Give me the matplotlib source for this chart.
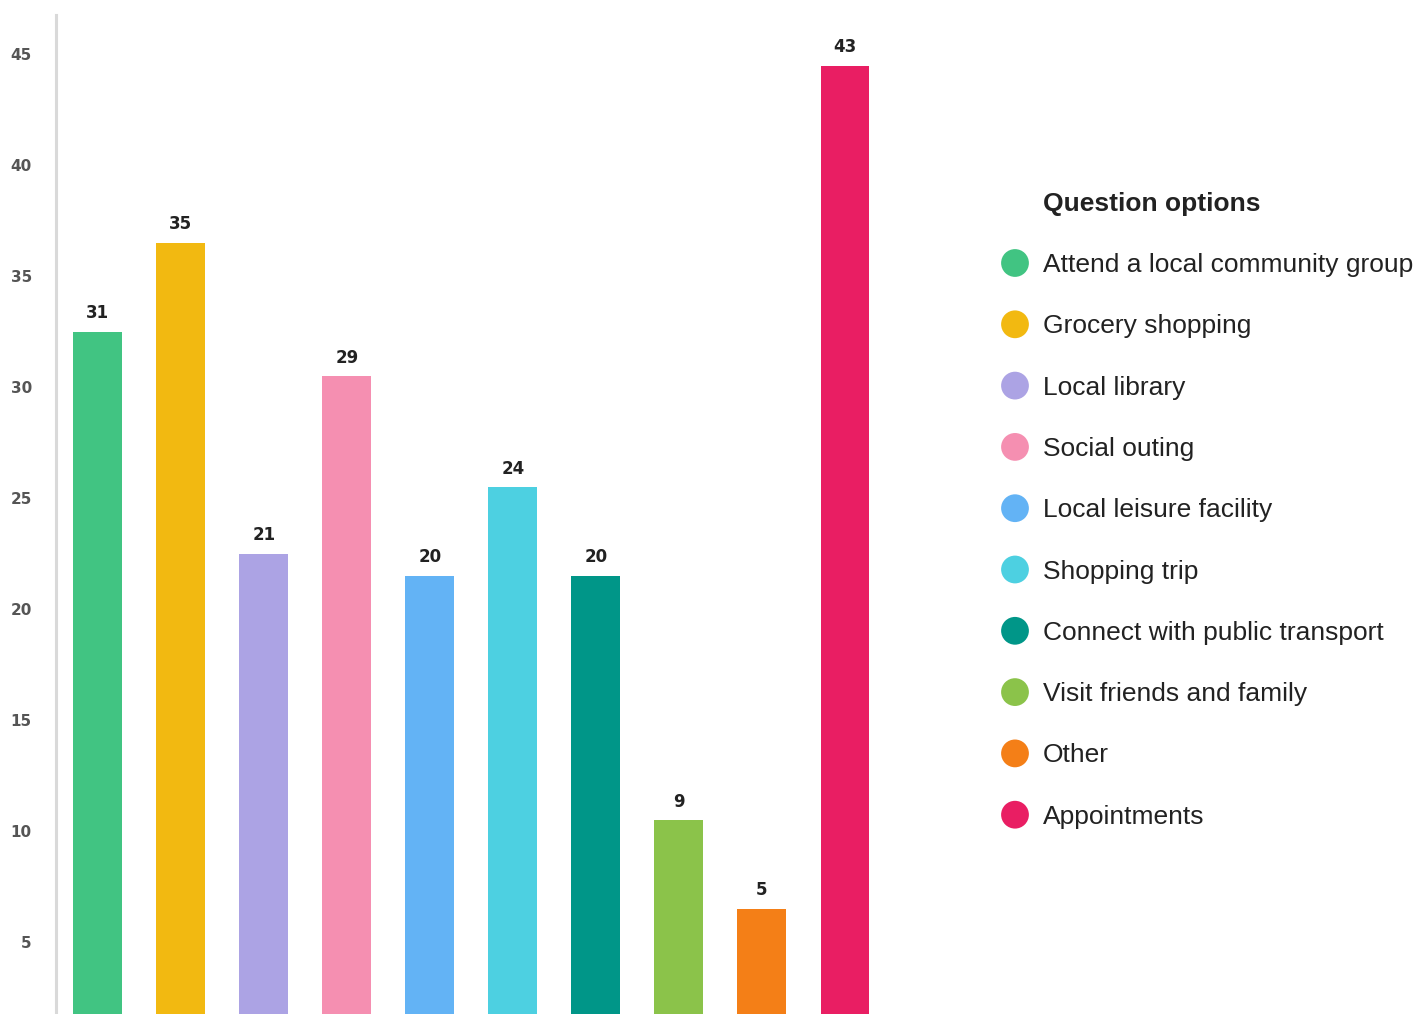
import numpy as np
import matplotlib
matplotlib.use("Agg")
import matplotlib.pyplot as plt

categories = ["Attend a local community group", "Grocery shopping", "Local library",
              "Social outing", "Local leisure facility", "Shopping trip",
              "Connect with public transport", "Visit friends and family",
              "Other", "Appointments"]
counts = [31, 35, 21, 29, 20, 24, 20, 9, 5, 43]
colors = ["#41C482", "#F2B911", "#ACA3E4", "#F58FB1", "#63B3F5",
          "#4DD0E1", "#009688", "#8BC34A", "#F47F17", "#E91E63"]
tick_values = [5, 10, 15, 20, 25, 30, 35, 40, 45]

# the source chart draws its axis labels about 1.5 units below the bar scale
label_shift = 1.48

W, H = 1418, 1014
fig = plt.figure(figsize=(W / 100, H / 100), dpi=100)

ax = fig.add_axes([55.5 / W, 0, (886.5 - 55.5) / W, (H - 15) / H])
x = np.arange(len(counts))
bars = ax.bar(x, counts, width=0.59, color=colors)
for rect, v in zip(bars, counts):
    ax.annotate(str(v), (rect.get_x() + rect.get_width() / 2, v),
                xytext=(0, 7), textcoords="offset points", ha="center", va="bottom",
                fontsize=12, fontweight="bold", color="#222222")

ax.set_xlim(-0.51, 9.5)
ax.set_ylim(0.27, 45.28)
ax.set_yticks([t - label_shift for t in tick_values])
ax.set_yticklabels([str(t) for t in tick_values])
ax.tick_params(axis="y", length=0, pad=17, labelsize=11, labelcolor="#555555")
for lbl in ax.get_yticklabels():
    lbl.set_fontweight("bold")
ax.set_xticks([])
for s in ["top", "right", "bottom"]:
    ax.spines[s].set_visible(False)
ax.spines["left"].set_color("#d9d9d9")
ax.spines["left"].set_linewidth(2.2)

# legend drawn in pixel coordinates
lax = fig.add_axes([0, 0, 1, 1])
lax.set_xlim(0, W)
lax.set_ylim(H, 0)
lax.axis("off")
lax.text(1043, 204, "Question options", fontsize=19, fontweight="bold",
         family="Liberation Sans", color="#222222", va="center")
row_y = 265 + 61.3 * np.arange(len(categories))
lax.scatter(np.full(len(categories), 1015), row_y - 2, s=400, c=colors, linewidths=0)
for yy, cat in zip(row_y, categories):
    lax.text(1043, yy, cat, fontsize=19, family="Liberation Sans",
             color="#222222", va="center")

fig.savefig("out.png", dpi=100)
